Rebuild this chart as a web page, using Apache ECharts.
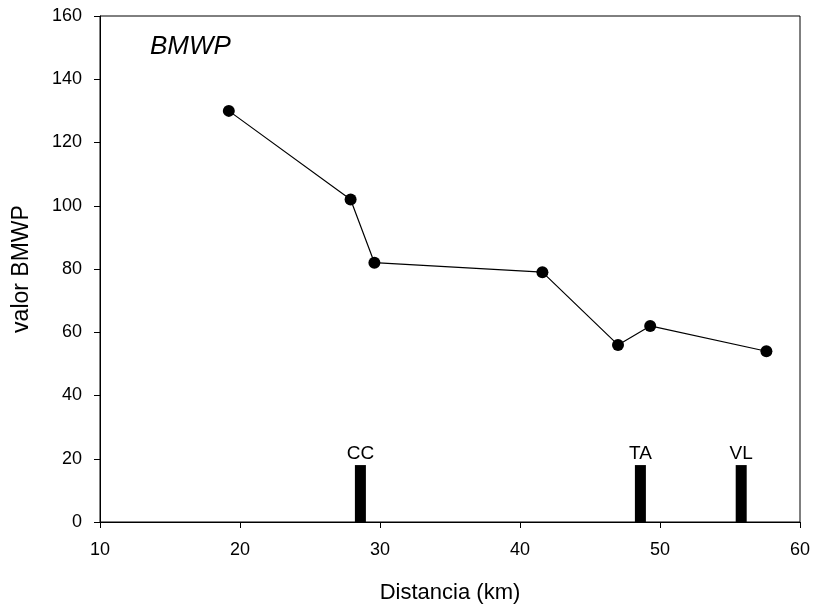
<!DOCTYPE html>
<html>
<head>
<meta charset="utf-8">
<script src="https://cdn.jsdelivr.net/npm/echarts@6/dist/echarts.min.js"></script>
<style>
  html,body{margin:0;padding:0;background:#fff;}
  #main{width:815px;height:606px;}
</style>
</head>
<body>
<div id="main"></div>
<script>
// BMWP values along the river
var distancia = [19.2, 27.9, 29.6, 41.6, 47.0, 49.3, 57.6];
var bmwp = [130, 102, 82, 79, 56, 62, 54];
// markers for sites
var siteNames = ['CC', 'TA', 'VL'];
var siteDist = [28.6, 48.6, 55.8];
var siteHeight = [18, 18, 18];
var xTicks = [10, 20, 30, 40, 50, 60];
var yTicks = [0, 20, 40, 60, 80, 100, 120, 140, 160];

var lineData = [];
for (var i = 0; i < distancia.length; i++) {
  lineData.push([distancia[i], bmwp[i]]);
}
var barData = [];
for (var j = 0; j < siteDist.length; j++) {
  barData.push({value: [siteDist[j], siteHeight[j]], name: siteNames[j]});
}

var myChart = echarts.init(document.getElementById('main'));
var fontFam = 'Liberation Sans, Arial, sans-serif';
var option = {
  animation: false,
  textStyle: {fontFamily: fontFam, color: '#000'},
  title: {
    text: 'BMWP',
    left: 145,
    top: 29,
    textStyle: {fontSize: 26, fontStyle: 'italic', fontWeight: 'normal', color: '#000', fontFamily: fontFam}
  },
  grid: {
    show: true,
    left: 100,
    right: 15,
    top: 16,
    bottom: 84,
    containLabel: false,
    outerBoundsMode: 'none',
    borderColor: '#000',
    borderWidth: 1,
    backgroundColor: '#fff'
  },
  xAxis: {
    type: 'value',
    min: xTicks[0],
    max: xTicks[xTicks.length - 1],
    interval: 10,
    name: 'Distancia (km)',
    nameLocation: 'middle',
    nameGap: 60,
    nameTextStyle: {fontSize: 22, color: '#000', fontFamily: fontFam},
    axisLine: {show: true, lineStyle: {color: '#000', width: 1}},
    axisTick: {show: true, inside: false, length: 6, lineStyle: {color: '#000'}},
    axisLabel: {fontSize: 18, color: '#000', margin: 19, fontFamily: fontFam},
    splitLine: {show: false}
  },
  yAxis: {
    type: 'value',
    min: yTicks[0],
    max: yTicks[yTicks.length - 1],
    interval: 20,
    name: 'valor BMWP',
    nameLocation: 'middle',
    nameGap: 67,
    nameTextStyle: {fontSize: 23, color: '#000', fontFamily: fontFam},
    axisLine: {show: true, lineStyle: {color: '#000', width: 1}},
    axisTick: {show: true, inside: false, length: 6, lineStyle: {color: '#000'}},
    axisLabel: {fontSize: 18, color: '#000', margin: 18, fontFamily: fontFam},
    splitLine: {show: false}
  },
  series: [
    {
      name: 'sitios',
      type: 'bar',
      data: barData,
      barWidth: 11,
      itemStyle: {color: '#000'},
      label: {
        show: true,
        position: 'top',
        distance: 2,
        formatter: function (p) { return p.name; },
        fontSize: 19,
        color: '#000',
        fontFamily: fontFam
      },
      z: 1
    },
    {
      name: 'BMWP',
      type: 'line',
      data: lineData,
      symbol: 'circle',
      symbolSize: 12,
      lineStyle: {color: '#000', width: 1.2},
      itemStyle: {color: '#000'},
      z: 3
    }
  ]
};
myChart.setOption(option);
</script>
</body>
</html>
